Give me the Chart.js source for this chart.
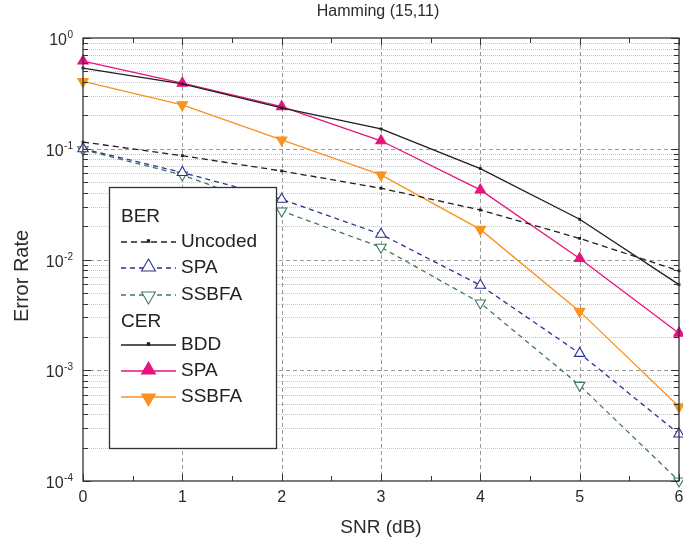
<!DOCTYPE html>
<html>
<head>
<meta charset="utf-8">
<style>
  html, body { margin: 0; padding: 0; background: #fff; overflow: hidden; }
  canvas { display: block; }
</style>
<script src="https://cdn.jsdelivr.net/npm/chart.js@4.4.1/dist/chart.umd.min.js"></script>
</head>
<body>
<canvas id="berChart" width="683" height="549"></canvas>
<script>
const snr = [0, 1, 2, 3, 4, 5, 6];

// BER curves
const berUncoded = [0.115, 0.0865, 0.063, 0.044, 0.028, 0.0155, 0.0079];
const berSpa = [0.1, 0.061, 0.035, 0.0169, 0.00585, 0.00142, 0.000266];
const berSsbfa = [0.098, 0.058, 0.0274, 0.0129, 0.00405, 0.00073, 0.0001];

// CER curves
const cerBdd = [0.535, 0.386, 0.234, 0.151, 0.0662, 0.0231, 0.00593];
const cerSpa = [0.619, 0.391, 0.24, 0.118, 0.0425, 0.0102, 0.00216];
const cerSsbfa = [0.405, 0.249, 0.12, 0.058, 0.0187, 0.0034, 0.000468];

const xTicks = [0, 1, 2, 3, 4, 5, 6];
const yDecades = [0, -1, -2, -3, -4];

const FONT = "'Liberation Sans', Arial, Helvetica, sans-serif";

function pts(ys) {
    return snr.map((x, i) => ({ x: x, y: ys[i] }));
}

function makeSet(label, ys, color, dash, style, filled, radius, rotation) {
    return {
        label: label,
        data: pts(ys),
        borderColor: color,
        backgroundColor: filled ? color : '#ffffff',
        borderWidth: 1.3,
        borderDash: dash,
        pointStyle: style,
        pointRadius: radius,
        pointRotation: rotation || 0,
        pointBorderColor: color,
        pointBackgroundColor: filled ? color : '#ffffff',
        pointBorderWidth: 1.1,
        tension: 0,
        fill: false,
        clip: false
    };
}

const datasets = [
    makeSet('Uncoded', berUncoded, '#1f1f1f', [6, 4], 'rect', true, 1.2),
    makeSet('SPA', berSpa, '#2e3192', [5, 4], 'triangle', false, 6),
    makeSet('SSBFA', berSsbfa, '#3f7a5c', [5, 4], 'triangle', false, 6, 180),
    makeSet('BDD', cerBdd, '#1f1f1f', [], 'rect', true, 1.2),
    makeSet('SPA', cerSpa, '#e8137f', [], 'triangle', true, 6),
    makeSet('SSBFA', cerSsbfa, '#f7931e', [], 'triangle', true, 6, 180)
];

// legend rows: header text or dataset index
const legendRows = ['BER', 0, 1, 2, 'CER', 3, 4, 5];

const framePlugin = {
    id: 'framePlugin',
    beforeDatasetsDraw(chart) {
        const ctx = chart.ctx;
        const area = chart.chartArea;
        const xs = chart.scales.x;
        const ys = chart.scales.y;
        ctx.save();
        // minor grid
        ctx.strokeStyle = '#c4c4c4';
        ctx.lineWidth = 1;
        ctx.setLineDash([1, 1]);
        for (let d = -4; d < 0; d++) {
            for (let k = 2; k <= 9; k++) {
                const y = Math.round(ys.getPixelForValue(k * Math.pow(10, d))) + 0.5;
                ctx.beginPath();
                ctx.moveTo(area.left, y);
                ctx.lineTo(area.right, y);
                ctx.stroke();
            }
        }
        // major grid
        ctx.strokeStyle = '#9a9a9a';
        ctx.setLineDash([4, 3]);
        for (let d = -3; d <= -1; d++) {
            const y = Math.round(ys.getPixelForValue(Math.pow(10, d))) + 0.5;
            ctx.beginPath();
            ctx.moveTo(area.left, y);
            ctx.lineTo(area.right, y);
            ctx.stroke();
        }
        for (let v = 1; v <= 5; v++) {
            const x = Math.round(xs.getPixelForValue(v)) + 0.5;
            ctx.beginPath();
            ctx.moveTo(x, area.top);
            ctx.lineTo(x, area.bottom);
            ctx.stroke();
        }
        ctx.restore();
    },
    afterDatasetsDraw(chart) {
        const ctx = chart.ctx;
        const area = chart.chartArea;
        const xs = chart.scales.x;
        const ys = chart.scales.y;
        ctx.save();
        ctx.setLineDash([]);
        ctx.strokeStyle = '#333333';
        ctx.lineWidth = 1.3;
        ctx.strokeRect(area.left, area.top, area.right - area.left, area.bottom - area.top);

        // y ticks
        ctx.lineWidth = 1;
        for (let d = -4; d <= 0; d++) {
            for (let k = 1; k <= 9; k++) {
                if (d === 0 && k > 1) break;
                const y = Math.round(ys.getPixelForValue(k * Math.pow(10, d))) + 0.5;
                const len = k === 1 ? 8 : 5;
                ctx.beginPath();
                ctx.moveTo(area.left, y);
                ctx.lineTo(area.left + len, y);
                ctx.moveTo(area.right, y);
                ctx.lineTo(area.right - len, y);
                ctx.stroke();
            }
        }
        // x ticks
        for (let v = 0; v <= 6; v += 0.5) {
            const x = Math.round(xs.getPixelForValue(v)) + 0.5;
            const len = Number.isInteger(v) ? 7 : 5;
            ctx.beginPath();
            ctx.moveTo(x, area.bottom);
            ctx.lineTo(x, area.bottom - len);
            ctx.moveTo(x, area.top);
            ctx.lineTo(x, area.top + len);
            ctx.stroke();
        }

        ctx.fillStyle = '#2b2b2b';
        // x tick labels
        ctx.font = '16px ' + FONT;
        ctx.textAlign = 'center';
        ctx.textBaseline = 'middle';
        xTicks.forEach(v => {
            ctx.fillText(String(v), xs.getPixelForValue(v), 498);
        });

        // y tick labels 10^n
        ctx.textBaseline = 'alphabetic';
        yDecades.forEach(d => {
            const y = ys.getPixelForValue(Math.pow(10, d));
            const sup = String(d);
            ctx.font = '10px ' + FONT;
            const supW = ctx.measureText(sup).width;
            ctx.textAlign = 'left';
            ctx.fillText(sup, 73 - supW, y);
            ctx.font = '16px ' + FONT;
            ctx.textAlign = 'right';
            ctx.fillText('10', 73 - supW - 0.5, y + 7);
        });

        // axis titles and title
        ctx.textAlign = 'center';
        ctx.textBaseline = 'middle';
        ctx.font = '19px ' + FONT;
        ctx.fillText('SNR (dB)', (area.left + area.right) / 2, 528);
        ctx.save();
        ctx.translate(22, 276);
        ctx.rotate(-Math.PI / 2);
        ctx.font = '20px ' + FONT;
        ctx.fillText('Error Rate', 0, 0);
        ctx.restore();
        ctx.font = '16px ' + FONT;
        ctx.fillText('Hamming (15,11)', 378, 12);

        // legend box
        const bx = 109, by = 187, bw = 167, bh = 261;
        ctx.fillStyle = '#ffffff';
        ctx.fillRect(bx, by, bw, bh);
        ctx.strokeStyle = '#333333';
        ctx.lineWidth = 1.3;
        ctx.strokeRect(bx + 0.5, by + 0.5, bw, bh);

        const rowY = [217, 242, 268, 295, 322, 345, 371, 397];
        legendRows.forEach((row, i) => {
            const y = rowY[i];
            ctx.font = '19px ' + FONT;
            ctx.fillStyle = '#222222';
            ctx.textAlign = 'left';
            ctx.textBaseline = 'middle';
            if (typeof row === 'string') {
                ctx.fillText(row, 121, y);
                return;
            }
            const ds = chart.data.datasets[row];
            ctx.save();
            ctx.strokeStyle = ds.borderColor;
            ctx.lineWidth = ds.borderWidth;
            ctx.setLineDash(ds.borderDash);
            ctx.beginPath();
            ctx.moveTo(121, y);
            ctx.lineTo(176, y);
            ctx.stroke();
            ctx.setLineDash([]);
            ctx.fillStyle = ds.pointBackgroundColor;
            ctx.strokeStyle = ds.pointBorderColor;
            ctx.lineWidth = ds.pointBorderWidth;
            const big = ds.pointStyle === 'triangle';
            Chart.helpers.drawPoint(ctx, {
                pointStyle: ds.pointStyle,
                radius: big ? 8 : 1.6,
                rotation: ds.pointRotation,
                borderWidth: ds.pointBorderWidth
            }, 148.5, ds.pointRotation ? y + 1 : y - 1);
            ctx.restore();
            ctx.fillStyle = '#222222';
            ctx.fillText(ds.label, 181, y);
        });
        ctx.restore();
    }
};

new Chart(document.getElementById('berChart'), {
    type: 'line',
    data: { datasets: datasets },
    options: {
        responsive: false,
        animation: false,
        layout: { autoPadding: false, padding: { left: 83, right: 4, top: 38, bottom: 68 } },
        plugins: {
            legend: { display: false },
            tooltip: { enabled: false }
        },
        scales: {
            x: { type: 'linear', min: 0, max: 6, display: false },
            y: { type: 'logarithmic', min: 1e-4, max: 1, display: false }
        }
    },
    plugins: [framePlugin]
});
</script>
</body>
</html>
